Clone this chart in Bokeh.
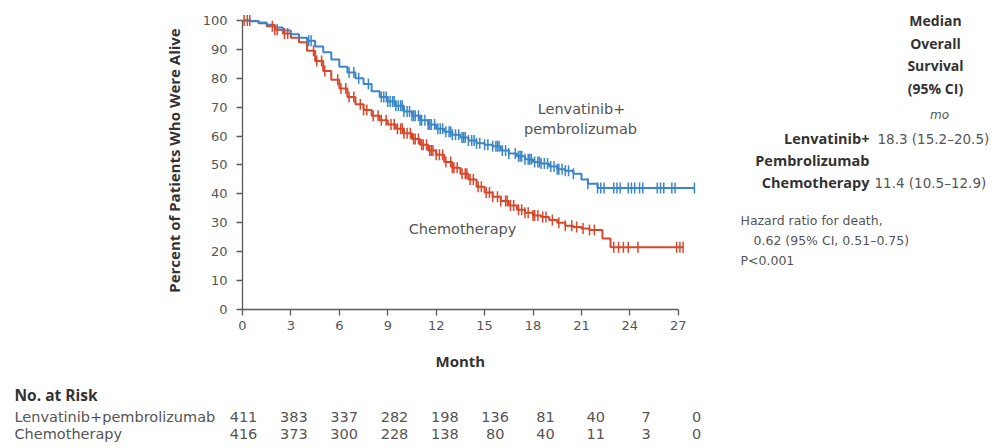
import numpy as np
from bokeh.plotting import figure
from bokeh.layouts import column, row
from bokeh.models import Range1d, FixedTicker, Label
from bokeh.core.properties import value
from bokeh.embed import file_html
from bokeh.resources import INLINE

# ---------------- data ----------------
lp_month = [0, 0.5, 1, 1.5, 2, 2.5, 3, 3.5, 4, 4.5, 5, 5.5, 6, 6.5, 7, 7.5, 8, 8.5, 9, 9.5,
            10, 10.5, 11, 11.5, 12, 12.5, 13, 13.5, 14, 14.5, 15, 15.5, 16, 16.5, 17, 17.5,
            18, 18.5, 19, 19.5, 20, 20.5, 21, 21.4, 22, 28]
lp_pct = [100, 99.8, 99.3, 98.5, 97.6, 96.5, 95.2, 94, 93, 91, 89, 86.5, 84, 82, 80, 78, 75.5,
          73.5, 72, 70.5, 68.5, 67, 65.5, 64, 62.5, 61.5, 60.5, 59.5, 58.5, 57.5, 57, 56.5, 55,
          54, 53, 52, 51, 50.5, 49.5, 48.5, 48, 47, 45, 43.5, 42, 42]
ch_month = [0, 0.5, 1, 1.5, 2, 2.5, 3, 3.5, 4, 4.5, 5, 5.5, 6, 6.5, 7, 7.5, 8, 8.5, 9, 9.5,
            10, 10.5, 11, 11.5, 12, 12.5, 13, 13.5, 14, 14.5, 15, 15.5, 16, 16.5, 17, 17.5,
            18, 18.5, 19, 19.5, 20, 20.5, 21, 21.5, 22.3, 22.8, 27.3]
ch_pct = [100, 99.7, 99, 98, 96.8, 95.5, 94, 92.5, 89.5, 86, 82.5, 79.5, 76.5, 73.5, 71, 69, 67,
          65.5, 64, 62.5, 61, 59, 57, 55, 53.5, 51, 49, 47, 45, 42.5, 40.5, 39, 37.5, 36, 34.5,
          33.5, 32.5, 32, 31, 30, 29, 28.5, 28, 27.5, 24.6, 21.5, 21.5]

lp_censor = [4.1, 4.25, 6.6, 6.9, 7.2, 7.8, 8.6, 8.75, 8.9, 9.0, 9.15, 9.3, 9.4, 9.5, 9.65,
             9.8, 9.9, 10.0, 10.2, 10.35, 10.5, 10.6, 10.7, 10.9, 11.0, 11.1, 11.3, 11.5,
             11.6, 11.7, 11.9, 12.1, 12.25, 12.4, 12.6, 12.8, 12.9, 13.0, 13.2, 13.4, 13.6,
             13.7, 13.8, 14.0, 14.2, 14.35, 14.5, 14.7, 15.0, 15.2, 15.5, 15.7, 15.8, 15.9,
             16.1, 16.3, 16.5, 16.9, 17.1, 17.2, 17.3, 17.5, 17.7, 17.8, 17.9, 18.1, 18.3,
             18.4, 18.5, 18.7, 18.9, 19.1, 19.3, 19.5, 19.6, 19.8, 20.0, 20.2, 20.5, 21.4,
             22.0, 22.2, 22.4, 23.0, 23.2, 23.4, 23.9, 24.1, 24.3, 24.6, 24.8, 25.7, 25.9,
             26.1, 26.6, 26.8, 28.0]
ch_censor = [0.1, 0.3, 0.45, 1.85, 2.0, 2.15, 2.6, 2.8, 4.4, 4.6, 4.9, 5.1, 5.9, 6.1, 6.4,
             6.6, 6.9, 7.3, 7.5, 7.7, 8.1, 8.4, 8.6, 8.9, 9.2, 9.4, 9.6, 9.8, 9.9, 10.0, 10.2,
             10.4, 10.6, 10.7, 10.9, 11.1, 11.2, 11.4, 11.6, 11.7, 11.8, 12.0, 12.2, 12.4,
             12.6, 12.9, 13.0, 13.1, 13.3, 13.6, 13.8, 13.9, 14.1, 14.3, 14.6, 14.8, 15.1,
             15.3, 15.5, 15.8, 16.0, 16.3, 16.4, 16.6, 16.8, 17.1, 17.3, 17.5, 17.7, 18.0,
             18.1, 18.3, 18.6, 18.8, 19.2, 19.6, 20.0, 20.4, 20.7, 21.1, 21.5, 21.8, 23.0,
             23.3, 23.6, 23.9, 24.5, 26.9, 27.1, 27.3]

month_ticks = [0, 3, 6, 9, 12, 15, 18, 21, 24, 27]
pct_ticks = [0, 10, 20, 30, 40, 50, 60, 70, 80, 90, 100]

risk_months = [0, 3, 6, 9, 12, 15, 18, 21, 24, 27]
risk_lp = [411, 383, 337, 282, 198, 136, 81, 40, 7, 0]
risk_ch = [416, 373, 300, 228, 138, 80, 40, 11, 3, 0]

# ---------------- styling ----------------
BLUE = "#3a86c8"
RED = "#d9472b"
AX = "#5a5a5a"
TXT = "#555555"
DARK = "#333333"
REG = "DejaVu Sans"
BOLD = "Open Sans"

W, H = 1004, 448
TOP_H = 340
MAIN_W = 702
LEFT, TOP, BOTTOM = 242, 11, 309
XMAX = 28.5
FRAME_W = MAIN_W - LEFT
YMAX = 103.1
PXM = FRAME_W / XMAX
PYU = (BOTTOM - TOP) / YMAX


def blank(fig):
    fig.outline_line_color = None
    fig.grid.visible = False
    fig.axis.visible = False
    fig.background_fill_color = "white"
    fig.border_fill_color = "white"
    return fig


# ---------------- main plot ----------------
p = figure(width=MAIN_W, height=TOP_H, output_backend="svg", toolbar_location=None,
           x_range=Range1d(0, XMAX), y_range=Range1d(0, YMAX),
           min_border_left=LEFT, min_border_right=0,
           min_border_top=TOP, min_border_bottom=TOP_H - BOTTOM)
p.outline_line_color = None
p.grid.visible = False
p.background_fill_color = "white"
p.border_fill_color = "white"

for ax in (p.xaxis[0], p.yaxis[0]):
    ax.axis_line_color = AX
    ax.axis_line_width = 1.3
    ax.major_tick_line_color = AX
    ax.major_tick_line_width = 1.3
    ax.major_tick_in = 0
    ax.major_tick_out = 6
    ax.minor_tick_line_color = None
    ax.major_label_text_font = REG
    ax.major_label_text_font_size = "13px"
    ax.major_label_text_color = TXT
    ax.axis_label_text_font = BOLD
    ax.axis_label_text_font_style = "bold"
    ax.axis_label_text_font_size = "15px"
    ax.axis_label_text_color = DARK

p.xaxis.ticker = FixedTicker(ticks=month_ticks)
p.yaxis.ticker = FixedTicker(ticks=pct_ticks)
p.xaxis.bounds = (0, 27)
p.yaxis.bounds = (0, 100)
p.yaxis.axis_label = "Percent of Patients Who Were Alive"
p.xaxis.major_label_standoff = 5
p.yaxis.major_label_standoff = 9
p.yaxis.axis_label_standoff = 16


def censor_y(times, months, pcts):
    m = np.asarray(months)
    s = np.asarray(pcts)
    idx = np.searchsorted(m, np.asarray(times), side="right") - 1
    return s[idx]


p.step(ch_month, ch_pct, mode="after", line_color=RED, line_width=2)
p.step(lp_month, lp_pct, mode="after", line_color=BLUE, line_width=2)
p.scatter(ch_censor, censor_y(ch_censor, ch_month, ch_pct), marker="dash", angle=np.pi / 2,
          size=11, line_color=RED, line_width=1.5)
p.scatter(lp_censor, censor_y(lp_censor, lp_month, lp_pct), marker="dash", angle=np.pi / 2,
          size=11, line_color=BLUE, line_width=1.5)


def main_label(px, py, text):
    p.add_layout(Label(x=(px - LEFT) / PXM, y=(BOTTOM - py) / PYU, text=text,
                       text_align="center", text_baseline="middle", text_font=REG,
                       text_font_size="14.5px", text_color=TXT))


main_label(581, 108, "Lenvatinib+")
main_label(580, 128, "pembrolizumab")
main_label(462, 228, "Chemotherapy")

# ---------------- right panel (pixel-like coordinates) ----------------
pr = blank(figure(width=W - MAIN_W, height=TOP_H, output_backend="svg", toolbar_location=None,
                  x_range=Range1d(MAIN_W, W), y_range=Range1d(BOTTOM, TOP),
                  min_border_left=0, min_border_right=0,
                  min_border_top=TOP, min_border_bottom=TOP_H - BOTTOM))


def rtext(px, py, text, align="left", font=REG, style="normal", size="13px", color=TXT):
    pr.text(x=[px], y=[py], text=[text], text_align=align, text_baseline="middle",
            text_font=value(font), text_font_style=style, text_font_size=size,
            text_color=color)


for py, t in [(20, "Median"), (43, "Overall"), (65, "Survival"), (88, "(95% CI)")]:
    rtext(935, py, t, align="center", font=BOLD, style="bold", size="14px", color=DARK)
rtext(939, 114, "mo", align="center", style="italic", size="12px")
rtext(869, 138, "Lenvatinib+", align="right", font=BOLD, style="bold", size="14.5px", color=DARK)
rtext(869, 160, "Pembrolizumab", align="right", font=BOLD, style="bold", size="14.5px", color=DARK)
rtext(869, 182, "Chemotherapy", align="right", font=BOLD, style="bold", size="14.5px", color=DARK)
rtext(877, 138, "18.3 (15.2\u201320.5)", size="13.5px")
rtext(874, 182, "11.4 (10.5\u201312.9)", size="13.5px")
rtext(740, 220, "Hazard ratio for death,", size="12.5px")
rtext(753, 240, "0.62 (95% CI, 0.51\u20130.75)", size="12.5px")
rtext(740, 260, "P<0.001", size="12.5px")

# ---------------- Month label + number at risk table ----------------
RISK_X0, RISK_X27 = 243, 696
mpp = 27 / (RISK_X27 - RISK_X0)  # table months per pixel
pt = blank(figure(width=W, height=H - TOP_H, output_backend="svg", toolbar_location=None,
                  x_range=Range1d(-RISK_X0 * mpp, (W - RISK_X0) * mpp),
                  y_range=Range1d(H, TOP_H), min_border=0))

month_center_px = LEFT + 13.5 * PXM
pt.text(x=[(month_center_px - RISK_X0) * mpp], y=[360], text=["Month"], text_align="center",
        text_baseline="middle", text_font=value(BOLD), text_font_style="bold",
        text_font_size="15px", text_color=DARK)

lab_x = (14 - RISK_X0) * mpp
pt.text(x=[lab_x], y=[394], text=["No. at Risk"], text_align="left", text_baseline="middle",
        text_font=value(BOLD), text_font_style="bold", text_font_size="15.5px", text_color=DARK)
pt.text(x=[lab_x, lab_x], y=[416, 433], text=["Lenvatinib+pembrolizumab", "Chemotherapy"],
        text_align="left", text_baseline="middle", text_font=value(REG),
        text_font_size="14.5px", text_color=TXT)
pt.text(x=risk_months, y=[416] * len(risk_months), text=[str(v) for v in risk_lp],
        text_align="center", text_baseline="middle", text_font=value(REG),
        text_font_size="14.5px", text_color=TXT)
pt.text(x=risk_months, y=[433] * len(risk_months), text=[str(v) for v in risk_ch],
        text_align="center", text_baseline="middle", text_font=value(REG),
        text_font_size="14.5px", text_color=TXT)

layout = column(row(p, pr, spacing=0), pt, spacing=0)
open("out.html", "w").write(file_html(layout, INLINE))
